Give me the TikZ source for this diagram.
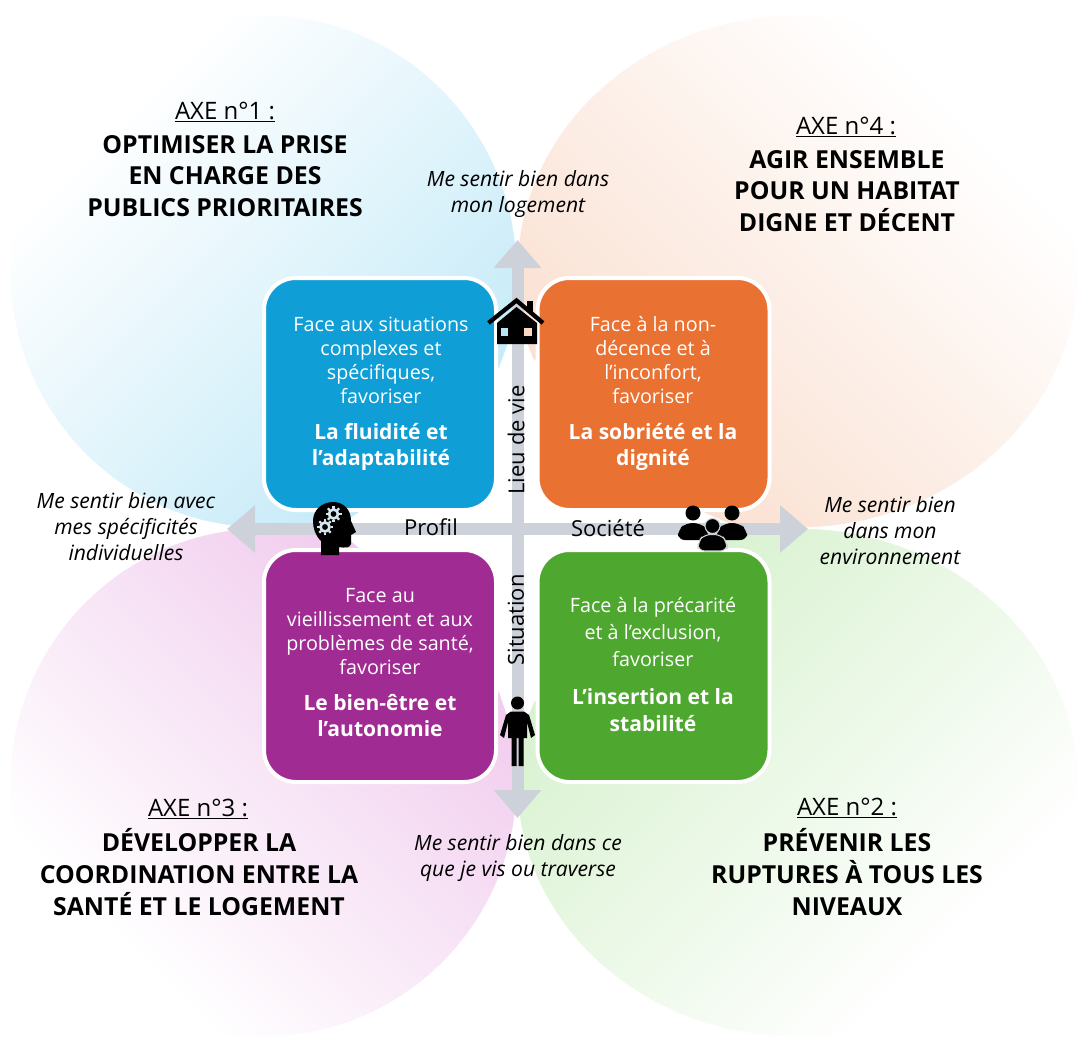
\documentclass[tikz,border=0pt]{standalone}
\usepackage{fontspec}
\setmainfont{Open Sans}
\usetikzlibrary{arrows.meta}
\definecolor{axisgray}{HTML}{CDD2DA}
\definecolor{bluebox}{HTML}{0F9ED5}
\definecolor{orangebox}{HTML}{E97132}
\definecolor{purplebox}{HTML}{A02B93}
\definecolor{greenbox}{HTML}{4EA72E}
\definecolor{bluein}{HTML}{B6E5F6}
\definecolor{orangein}{HTML}{F9D8C5}
\definecolor{pinkin}{HTML}{EDBEE9}
\definecolor{greenin}{HTML}{CDEEC2}
\definecolor{gearcol}{HTML}{D5E6EE}
\pgfdeclareverticalshading{petalblue}{100bp}{color(0bp)=(bluein); color(15bp)=(bluein); color(71bp)=(white); color(100bp)=(white)}
\pgfdeclareverticalshading{petalorange}{100bp}{color(0bp)=(orangein); color(15bp)=(orangein); color(71bp)=(white); color(100bp)=(white)}
\pgfdeclareverticalshading{petalpink}{100bp}{color(0bp)=(pinkin); color(15bp)=(pinkin); color(71bp)=(white); color(100bp)=(white)}
\pgfdeclareverticalshading{petalgreen}{100bp}{color(0bp)=(greenin); color(15bp)=(greenin); color(71bp)=(white); color(100bp)=(white)}
\newcommand{\fs}[2]{\fontsize{#1}{#2}\selectfont}
\tikzset{
  petal/.style={draw=white,line width=0.8pt},
  quadbox/.style={rectangle,rounded corners=24pt,draw=white,line width=3pt,minimum width=174pt,minimum height=174pt,inner sep=0pt,outer sep=0pt},
  axisline/.style={draw=axisgray,line width=9pt,-{Triangle[width=34.5pt,length=21pt]}},
  boxtext/.style={text=white,align=center,inner sep=0pt,font=\fs{14.8}{18}},
  boxbold/.style={text=white,align=center,inner sep=0pt,font=\fs{15.8}{19.5}\bfseries},
  axetitle/.style={align=center,inner sep=0pt,font=\fs{18}{18}},
  axemain/.style={align=center,inner sep=0pt,font=\fs{18.6}{23.7}\bfseries},
  note/.style={align=center,inner sep=0pt,font=\fs{15.8}{19.5}\itshape},
  axislabel/.style={inner sep=0pt,font=\fs{16.5}{18},text=black},
  icon/.style={fill=black,draw=none},
  gearline/.style={draw=gearcol,line width=2pt},
  gearteeth/.style={draw=gearcol,line width=1.7pt}
}
\begin{document}
\begin{tikzpicture}[x=0.75pt,y=-0.75pt]
\useasboundingbox (0,0) rectangle (1078,1038);
\fill[white] (0,0) rectangle (1078,1038);
% petals
\draw[petal,shading=petalblue,shading angle=45]
 (517,528)--(263.5,528) .. controls (123.5,528) and (10,413.2) .. (10,271.5) .. controls (10,129.8) and (123.5,15) .. (263.5,15) .. controls (403.5,15) and (517,129.8) .. (517,271.5) -- cycle;
\draw[petal,shading=petalorange,shading angle=-45]
 (517,528)--(797,528) .. controls (952,528) and (1078,413.2) .. (1078,271.5) .. controls (1078,129.8) and (952,15) .. (797,15) .. controls (642,15) and (517,129.8) .. (517,271.5) -- cycle;
\draw[petal,shading=petalpink,shading angle=135]
 (517,528)--(263.5,528) .. controls (123.5,528) and (10,642.8) .. (10,783) .. controls (10,923.2) and (123.5,1037) .. (263.5,1037) .. controls (403.5,1037) and (517,923.2) .. (517,783) -- cycle;
\draw[petal,shading=petalgreen,shading angle=-135]
 (517,528)--(797,528) .. controls (952,528) and (1078,642.8) .. (1078,783) .. controls (1078,923.2) and (952,1037) .. (797,1037) .. controls (642,1037) and (517,923.2) .. (517,783) -- cycle;
% white centre
\fill[white] (517,318) -- (533,358) -- (570,400) -- (705,513) -- (740,528) -- (705,547) -- (600,650) -- (534,702) -- (517,745) -- (499,692) -- (440,640) -- (358,547) -- (335,528) -- (358,513) -- (440,430) -- (499,368) -- cycle;
% axes
\coordinate (centre) at (517.5,529);
\coordinate (up) at (517.5,240);
\coordinate (down) at (517.5,818);
\coordinate (left) at (227,529);
\coordinate (right) at (808,529);
\draw[axisline] (centre) -- (up);
\draw[axisline] (centre) -- (down);
\draw[axisline] (centre) -- (left);
\draw[axisline] (centre) -- (right);
% boxes
\node[quadbox,fill=bluebox] (b1) at (380,394) {};
\node[quadbox,fill=orangebox] (b4) at (653.5,394) {};
\node[quadbox,fill=purplebox] (b3) at (380,666) {};
\node[quadbox,fill=greenbox] (b2) at (653.5,666) {};
% box texts
\node[boxtext] (t1) at (381,360) {Face aux situations\\complexes et\\spécifiques,\\favoriser};
\node[boxbold] (t1b) at (381,447) {La fluidité et\\l’adaptabilité};
\node[boxtext] (t4) at (653,360) {Face à la non-\\décence et à\\l’inconfort,\\favoriser};
\node[boxbold] (t4b) at (653,447) {La sobriété et la\\dignité};
\node[boxtext] (t3) at (380,632) {Face au\\vieillissement et aux\\problèmes de santé,\\favoriser};
\node[boxbold] (t3b) at (380,716) {Le bien-être et\\l’autonomie};
\node[boxtext,font=\fs{14.8}{20}] (t2) at (653,632) {Face à la précarité\\et à l’exclusion,\\favoriser};
\node[boxbold,font=\fs{15.8}{20.5}\bfseries] (t2b) at (653,710) {L’insertion et la\\stabilité};
% axis labels
\node[axislabel,rotate=90] (l1) at (516,440) {Lieu de vie};
\node[axislabel,rotate=90] (l2) at (516,620) {Situation};
\node[axislabel] (l3) at (431,527) {Profil};
\node[axislabel] (l4) at (608,528) {Société};
% notes
\node[note] (n1) at (518,194) {Me sentir bien dans\\mon logement};
\node[note] (n2) at (126,527) {Me sentir bien avec\\mes spécificités\\individuelles};
\node[note] (n3) at (890,531) {Me sentir bien\\dans mon\\environnement};
\node[note] (n4) at (518,858) {Me sentir bien dans ce\\que je vis ou traverse};
% titles
\node[axetitle] (a1) at (225,112) {\underline{AXE n°1 :}};
\node[axemain] (a1m) at (225,176) {OPTIMISER LA PRISE\\EN CHARGE DES\\PUBLICS PRIORITAIRES};
\node[axetitle] (a4) at (846,127) {\underline{AXE n°4 :}};
\node[axemain] (a4m) at (847,191) {AGIR ENSEMBLE\\POUR UN HABITAT\\DIGNE ET DÉCENT};
\node[axetitle] (a3) at (198,809) {\underline{AXE n°3 :}};
\node[axemain] (a3m) at (199,872) {DÉVELOPPER LA\\COORDINATION ENTRE LA\\SANTÉ ET LE LOGEMENT};
\node[axetitle] (a2) at (847,808) {\underline{AXE n°2 :}};
\node[axemain] (a2m) at (847,872) {PRÉVENIR LES\\RUPTURES À TOUS LES\\NIVEAUX};
% house icon
\draw[black,line width=3.2pt,line join=miter] (488.5,323) -- (516.5,300.5) -- (543,323);
\fill[icon] (527,301) rectangle (532.5,312);
\fill[icon] (497,323) -- (516.5,307) -- (537,323) -- (537,344) -- (497,344) -- cycle;
\fill[bluein] (500.5,328) rectangle (508,336);
\fill[orangein] (524,328) rectangle (532,336);
% head icon
\fill[icon] (321,555) -- (321,541) .. controls (315,535) and (313,528) .. (313,521) .. controls (313,510) and (322,502) .. (333,502) .. controls (344,502) and (351,510) .. (351,521) -- (356,532) -- (351,535) -- (351,544) .. controls (350,548) and (345,548) .. (339,547) -- (339,555) -- cycle;
\draw[gearline] (333.5,514) circle[radius=4.5];
\draw[gearline] (325,527) circle[radius=4.5];
\foreach \a in {0,45,...,315}{
  \draw[gearteeth] (333.5,514) ++(\a:5.5) -- ++(\a:2.5);
  \draw[gearteeth] (325,527) ++(\a:5.5) -- ++(\a:2.5);
}
% people icon
\fill[icon] (693,513) circle[radius=7.5];
\fill[icon] (732,513) circle[radius=7.5];
\fill[icon,rounded corners=5pt] (678,540) -- (678,530) -- (686,523) -- (700,523) -- (708,530) -- (708,540) -- cycle;
\fill[icon,rounded corners=5pt] (717,540) -- (717,530) -- (725,523) -- (739,523) -- (747,530) -- (747,540) -- cycle;
\fill[icon,draw=axisgray,line width=0.8pt] (712.5,526) circle[radius=7.5];
\fill[icon,draw=axisgray,line width=0.8pt,rounded corners=5pt] (698,551) -- (698,542) -- (704,534.5) -- (721,534.5) -- (727,542) -- (727,551) -- cycle;
% person icon
\fill[icon] (517.5,703) circle[radius=6.5];
\fill[icon] (500,735) -- (506,715) -- (511,711.5) -- (524,711.5) -- (529,715) -- (535,735) -- (531,738) -- (527,722) -- (527,738) -- (523.5,738) -- (523.5,766) -- (518.5,766) -- (518.5,738) -- (516.5,738) -- (516.5,766) -- (511.5,766) -- (511.5,738) -- (508,738) -- (508,722) -- (504,738) -- cycle;
\end{tikzpicture}
\end{document}
